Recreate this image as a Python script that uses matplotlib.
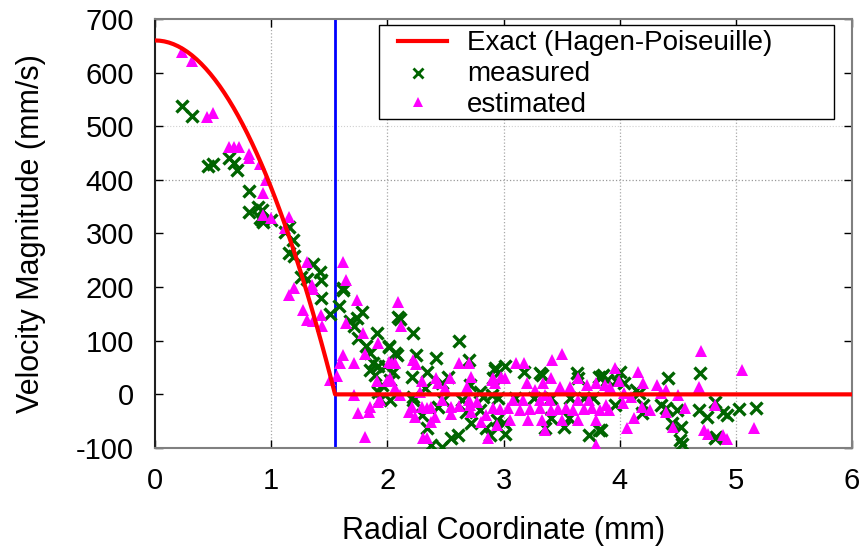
import numpy as np
import matplotlib
matplotlib.use('Agg')
import matplotlib.pyplot as plt
from matplotlib.patches import Rectangle

plt.rcParams['font.family'] = ['Liberation Sans', 'DejaVu Sans']
plt.rcParams['axes.unicode_minus'] = False

# exact profile parameters
v_max = 660.0
R = 1.55

# measured velocities (green crosses)
meas_r = [0.23, 0.32, 0.46, 0.50, 0.64, 0.68, 0.71, 0.81, 0.81, 0.89, 0.92, 0.90, 0.93, 1.00, 1.15,
          0.92, 1.12, 1.19, 1.15, 1.20, 1.36, 1.42, 1.26, 1.31, 1.43, 1.62, 1.62, 1.43, 1.58, 1.51,
          1.78, 1.74, 1.68, 1.71, 1.91, 1.75, 1.82, 2.01, 1.85, 1.88, 1.92, 1.85, 1.89, 2.08, 1.95,
          1.92, 2.09, 2.11, 2.22, 2.01, 2.07, 2.25, 1.98, 2.05, 2.02, 2.62, 2.42, 2.70, 2.34, 2.21,
          2.52, 2.71, 2.47, 2.02, 1.94, 2.22, 2.22, 2.32, 2.48, 2.44, 2.64, 2.80, 2.82, 2.93, 2.91,
          2.30, 2.34, 2.38, 2.47, 2.55, 2.61, 2.72, 2.85, 2.88, 2.68, 2.80,
          2.93, 3.01, 3.18, 3.31, 3.33, 3.63, 3.64, 3.82, 3.86, 2.90, 2.95, 3.10, 3.26, 3.41, 3.57,
          3.69, 3.77, 2.94, 3.00, 3.41, 3.56, 3.01, 3.74, 3.82, 3.36, 3.52,
          4.69, 4.00, 4.42, 3.84, 3.89, 3.97, 4.04, 4.14, 4.17, 3.96, 4.20, 4.36, 4.40, 4.19, 4.49,
          4.68, 4.75, 4.45, 4.53, 4.52, 4.82, 3.84,
          4.89, 5.03, 5.17, 4.82, 4.83, 4.92, 4.54]
meas_v = [538, 519, 425, 430, 441, 431, 418, 379, 341, 350, 344, 328, 322, 325, 313,
          325, 303, 288, 263, 258, 244, 229, 219, 215, 213, 198, 195, 179, 165, 149,
          154, 142, 136, 127, 114, 105, 90, 90, 77, 58, 53, 45, 36, 73, 17,
          5, 145, 140, 115, 89, 77, 73, 52, 42, 27, 100, 67, 64, 42, 33,
          33, 17, 21, -10, -8, -4, -10, 11, -10, -23, -10, 5, -4, 45, 30,
          -38, -63, -94, -98, -82, -76, -54, -63, -76, -32, -30,
          49, 52, 42, 39, 36, 39, 30, 33, 36, -1, -7, -7, -7, -7, -7,
          -7, -7, -48, -54, -45, -45, -73, -76, -66, -63, -60,
          39, 42, 30, 33, 27, 24, 21, 8, 2, -20, -20, -20, -26, -35, -29,
          -29, -42, -54, -60, -85, -82, -66,
          -32, -28, -25, -14, -79, -39, -92]

# estimated velocities (magenta triangles)
est_r = [0.23, 0.32, 0.45, 0.50, 0.64, 0.68, 0.72, 0.81, 0.81, 0.90, 0.955, 0.93, 0.93, 1.00, 1.15,
         1.12, 1.31, 1.62, 1.64, 1.20, 1.15, 1.35, 1.36, 1.74, 1.27, 1.31, 1.36, 1.43, 1.44, 1.64,
         1.79, 1.92, 1.81, 1.62, 1.59, 1.71, 1.57, 1.51, 2.01, 2.07, 2.02, 1.91, 1.71, 2.09,
         1.81, 1.75, 1.85, 1.84, 1.92,
         2.12, 2.04, 2.02, 2.00, 2.07, 2.11, 1.94, 2.22, 2.25, 2.30, 2.28, 2.21, 2.19, 2.24, 2.30,
         2.34, 2.38, 2.41, 2.38, 2.31, 2.34, 2.42, 2.44, 2.47, 2.50, 2.54, 2.55, 2.55, 2.62, 2.62,
         2.70, 2.72, 2.69, 2.70, 2.71, 2.72, 2.77, 2.81, 2.85, 2.87, 2.91, 2.93, 2.91, 2.94,
         3.11, 3.18, 3.42, 3.50, 2.90, 2.98, 3.01, 3.20, 3.27, 3.34, 3.41, 3.49, 3.36, 3.57, 3.64,
         3.72, 3.80, 3.87, 2.97, 3.04, 3.14, 3.23, 3.31, 3.41, 3.47, 3.54, 3.60, 3.69, 3.76, 3.83,
         3.06, 3.21, 3.33, 3.50, 3.64, 3.80, 3.36, 3.80, 3.08, 3.17, 3.31, 3.40, 3.64, 3.74,
         4.70, 3.96, 4.16, 3.99, 3.92, 4.20, 4.32, 4.40, 4.68, 4.04, 4.10, 4.36, 4.50,
         4.03, 4.19, 4.26, 4.40, 4.56, 4.82, 3.88, 3.91, 4.12, 4.46, 4.06, 4.76, 4.92,
         5.05, 5.16, 4.73, 4.89]
est_v = [639, 622, 517, 525, 462, 462, 462, 448, 440, 429, 400, 375, 334, 329, 330,
         310, 246, 246, 213, 198, 185, 204, 196, 176, 157, 139, 137, 148, 127, 134,
         114, 95, 75, 73, 58, 59, 34, 27, 61, 58, 27, 24, -1, 173,
         -79, -35, -23, -32, -14,
         128, 58, 30, 25, 11, -1, -10, 65, 57, 24, 5, -23, -32, -42, -23,
         -26, -23, -42, -51, -82, -82, 30, 21, -10, 11, 30, -23, -37, -22, 58,
         58, 32, 13, -10, -20, -32, -14, -51, -38, -82, 30, 21, -26, -57,
         58, 58, 65, 75, 27, 33, 30, 21, 8, 21, 30, 14, -1, 14, 30,
         17, 21, 17, -28, -26, -30, -28, -26, -30, -28, -26, -30, -28, -26, -30,
         -47, -47, -47, -47, -47, -47, -66, -94, -10, -10, -10, -10, -10, -10,
         80, 49, 42, 24, 14, 21, 17, 8, 14, 2, -4, 2, -1,
         -17, -23, -29, -32, -26, -20, -20, -29, -45, -60, -62, -74, -83,
         45, -62, -66, -76]

legend_labels = ['Exact (Hagen-Poiseuille)', 'measured', 'estimated']

r_line = np.linspace(0, R, 40)
v_line = v_max * (1 - (r_line / R) ** 2)
r_line = np.append(r_line, 6.0)
v_line = np.append(v_line, 0.0)

fig = plt.figure(figsize=(8.67, 5.46), dpi=100)
ax = fig.add_axes([0.1788, 0.1795, 0.9827 - 0.1788, 0.9652 - 0.1795])

# gnuplot-like dotted grid (only the lines that show in the original)
for gx in [1, 2, 3, 4, 5]:
    ax.axvline(gx, color='#a8a8a8', linestyle=':', linewidth=0.9, zorder=1)
ax.axhline(400, color='#999999', linestyle=':', linewidth=0.9, zorder=1)
ax.axhline(500, color='#d0d0d0', linestyle=':', linewidth=0.8, zorder=1)

ax.axvline(R, color='#0000ff', linewidth=2, zorder=2)
ax.plot(r_line, v_line, color='#ff0000', linewidth=3, zorder=5)
ax.plot(meas_r, meas_v, linestyle='none', marker='x', markersize=9.3, markeredgewidth=2.4,
        color='#006400', zorder=3)
ax.plot(est_r, est_v, linestyle='none', marker='^', markersize=8.5, markeredgewidth=0,
        color='#ff00ff', zorder=4)

ax.set_xlim(0, 6)
ax.set_ylim(-100, 700)
ax.set_xticks(range(0, 7))
ax.set_yticks(range(-100, 701, 100))
ax.tick_params(direction='in', length=6, width=1, top=True, right=True, labelsize=21)
ax.tick_params(axis='x', pad=14)
ax.tick_params(axis='y', pad=15)
for side in ['top', 'right', 'bottom']:
    ax.spines[side].set_color('#808080')
    ax.spines[side].set_linewidth(1.5)
ax.spines['left'].set_color('#202020')
ax.spines['left'].set_linewidth(1.5)

ax.set_xlabel('Radial Coordinate (mm)', fontsize=22, labelpad=15)
ax.set_ylabel('Velocity Magnitude (mm/s)', fontsize=22, labelpad=22)

# gnuplot style key box, built by hand in axes fractions
tr = ax.transAxes
ax.add_patch(Rectangle((0.3214, 0.767), 0.9742 - 0.3214, 0.986 - 0.767, transform=tr,
                       facecolor='white', edgecolor='black', linewidth=1, zorder=6))
ax.plot([0.3486, 0.4189], [0.9487, 0.9487], transform=tr, color='#ff0000', linewidth=3, zorder=7)
ax.plot([0.3773], [0.8748], transform=tr, marker='x', markersize=6.5, markeredgewidth=2,
        color='#006400', linestyle='none', zorder=7)
ax.plot([0.3773], [0.8072], transform=tr, marker='^', markersize=6.5, markeredgewidth=0,
        color='#ff00ff', linestyle='none', zorder=7)
baselines = [0.9277, 0.8550, 0.7823]
for yy, lab in zip(baselines, legend_labels):
    ax.text(0.4476, yy, lab, transform=tr, fontsize=20, va='baseline', ha='left', zorder=8)

fig.savefig('out.png', dpi=100)
